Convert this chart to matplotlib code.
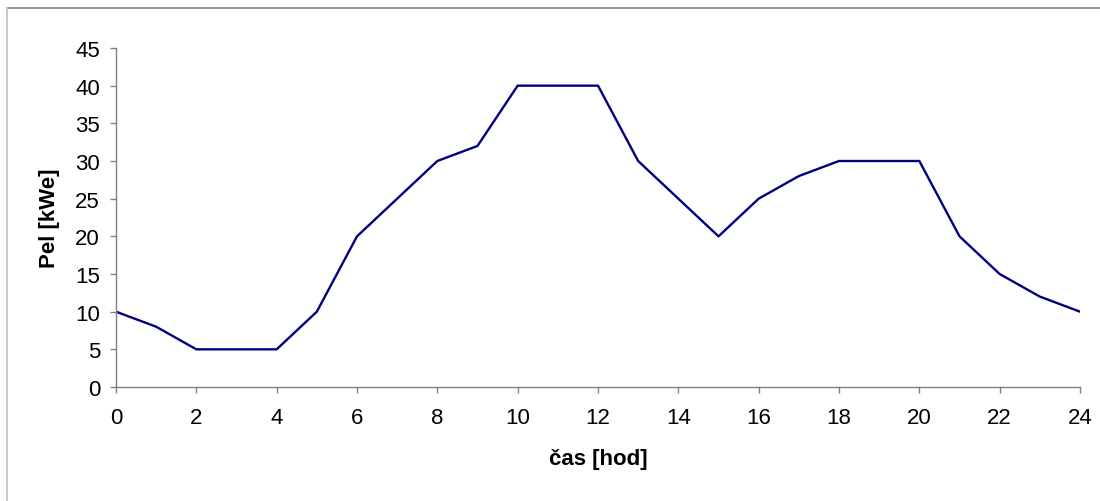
import matplotlib.pyplot as plt
from matplotlib.lines import Line2D

# hodinovy prubeh elektrickeho vykonu
hodiny = list(range(25))
vykon = [10, 8, 5, 5, 5, 10, 20, 25, 30, 32, 40, 40, 40, 30, 25, 20, 25, 28, 30, 30, 30, 20, 15, 12, 10]
x_ticks = list(range(0, 25, 2))
y_ticks = list(range(0, 50, 5))

plt.rcParams['font.family'] = ['Liberation Sans', 'DejaVu Sans']

fig = plt.figure(figsize=(11, 5.02), dpi=100)
ax = fig.add_axes([116 / 1100, 1 - 388 / 502, (1080 - 116) / 1100, (388 - 49) / 502])

ax.plot(hodiny, vykon, color='#000080', linewidth=1.7)

ax.set_xlim(0, 24)
ax.set_ylim(0, 45)
ax.set_xticks(x_ticks)
ax.set_yticks(y_ticks)

for s in ['top', 'right']:
    ax.spines[s].set_visible(False)
for s in ['left', 'bottom']:
    ax.spines[s].set_color('#808080')
    ax.spines[s].set_linewidth(1.0)

ax.tick_params(axis='both', direction='out', length=4.5, width=1.0, color='#808080',
               labelsize=16, labelcolor='black')
ax.tick_params(axis='x', pad=10)
ax.tick_params(axis='y', pad=7)

ax.set_xlabel('čas [hod]', fontsize=16, fontweight='bold', labelpad=14)
ax.set_ylabel('Pel [kWe]', fontsize=16, fontweight='bold', labelpad=11)

# ramecek grafu
fig.add_artist(Line2D([7 / 1100, 1], [1 - 9 / 502, 1 - 9 / 502], color='#808080', linewidth=1.2,
                      transform=fig.transFigure))
fig.add_artist(Line2D([7 / 1100, 7 / 1100], [0, 1 - 9 / 502], color='#c0c0c0', linewidth=1.2,
                      transform=fig.transFigure))

fig.savefig('out.png', dpi=100)
